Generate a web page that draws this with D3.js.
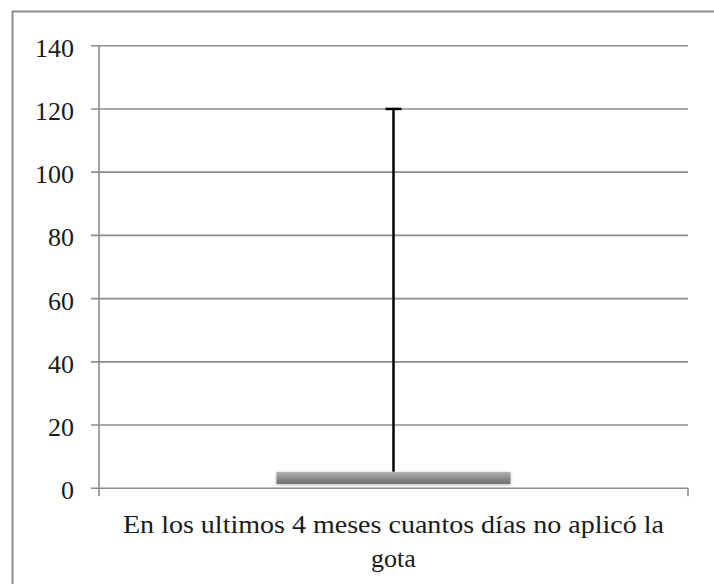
<!DOCTYPE html>
<html>
<head>
<meta charset="utf-8">
<script src="https://cdn.jsdelivr.net/npm/d3@7"></script>
<style>
  html, body { margin: 0; padding: 0; background: #fff; }
  svg { display: block; }
</style>
</head>
<body>
<div id="chart"></div>
<script>
// Days without applying the drops over the last 4 months: box + upper whisker
const categories = ["En los ultimos 4 meses cuantos días no aplicó la gota"];
const categoryLines = [["En los ultimos 4 meses cuantos días no aplicó la", "gota"]];
const boxLow = [1.4];
const boxHigh = [5.2];
const whiskerHigh = [120];
const yTicks = [0, 20, 40, 60, 80, 100, 120, 140];

const width = 714, height = 584;
const margin = { left: 99, right: 26, top: 45.7, bottom: 95.7 };
const font = "'Liberation Serif', 'Times New Roman', serif";

const svg = d3.select("#chart").append("svg")
  .attr("width", width).attr("height", height);

const defs = svg.append("defs");
const grad = defs.append("linearGradient")
  .attr("id", "boxFill").attr("x1", 0).attr("y1", 0).attr("x2", 0).attr("y2", 1);
grad.append("stop").attr("offset", "0%").attr("stop-color", "#b4b4b4");
grad.append("stop").attr("offset", "55%").attr("stop-color", "#8a8a8a");
grad.append("stop").attr("offset", "100%").attr("stop-color", "#6e6e6e");
defs.append("filter").attr("id", "soft").attr("x", "-5%").attr("y", "-50%")
  .attr("width", "110%").attr("height", "200%")
  .append("feDropShadow").attr("dx", 0).attr("dy", 1).attr("stdDeviation", 1.5)
  .attr("flood-color", "#000").attr("flood-opacity", 0.3);

// chart-area frame (left and top edges)
svg.append("path")
  .attr("d", `M12.5,${height} V11.5 H${width}`)
  .attr("fill", "none").attr("stroke", "#8c8c8c").attr("stroke-width", 2);

const x = d3.scaleBand().domain(categories)
  .range([margin.left, width - margin.right]).paddingInner(0).paddingOuter(0);
const y = d3.scaleLinear().domain([0, 140])
  .range([height - margin.bottom, margin.top]);

// horizontal gridlines
svg.append("g").selectAll("line").data(yTicks).join("line")
  .attr("x1", margin.left - 8).attr("x2", width - margin.right)
  .attr("y1", d => y(d)).attr("y2", d => y(d))
  .attr("stroke", "#8c8c8c").attr("stroke-width", 1.6);

// y axis line
svg.append("line")
  .attr("x1", margin.left).attr("x2", margin.left)
  .attr("y1", y(140)).attr("y2", y(0))
  .attr("stroke", "#8c8c8c").attr("stroke-width", 1.6);

// x axis tick marks at category boundaries
const bounds = [x.range()[0], x.range()[1]];
svg.append("g").selectAll("line").data(bounds).join("line")
  .attr("x1", d => d).attr("x2", d => d)
  .attr("y1", y(0)).attr("y2", y(0) + 8)
  .attr("stroke", "#8c8c8c").attr("stroke-width", 1.6);

// y tick labels
svg.append("g").selectAll("text").data(yTicks).join("text")
  .attr("x", 74).attr("y", d => y(d) + 11)
  .attr("text-anchor", "end")
  .attr("font-family", font).attr("font-size", 26).attr("fill", "#1a1a1a")
  .text(d => d);

// whisker from box top to max
const cx = d => x(d) + x.bandwidth() / 2;
svg.append("g").selectAll("line.whisker").data(categories).join("line")
  .attr("x1", d => cx(d)).attr("x2", d => cx(d))
  .attr("y1", (d, i) => y(boxHigh[i])).attr("y2", (d, i) => y(whiskerHigh[i]))
  .attr("stroke", "#000").attr("stroke-width", 2.5);
svg.append("g").selectAll("line.cap").data(categories).join("line")
  .attr("x1", d => cx(d) - 8).attr("x2", d => cx(d) + 8)
  .attr("y1", (d, i) => y(whiskerHigh[i])).attr("y2", (d, i) => y(whiskerHigh[i]))
  .attr("stroke", "#000").attr("stroke-width", 2.5);

// box
const boxW = 234;
svg.append("g").selectAll("rect").data(categories).join("rect")
  .attr("x", d => cx(d) - boxW / 2).attr("width", boxW)
  .attr("y", (d, i) => y(boxHigh[i]))
  .attr("height", (d, i) => y(boxLow[i]) - y(boxHigh[i]))
  .attr("fill", "url(#boxFill)").attr("filter", "url(#soft)");

// category label (two lines)
const lab = svg.append("g");
categoryLines.forEach((lines, i) => {
  lines.forEach((t, j) => {
    const el = lab.append("text")
      .attr("x", cx(categories[i])).attr("y", 533 + j * 34)
      .attr("text-anchor", "middle")
      .attr("font-family", font).attr("font-size", 26).attr("fill", "#1a1a1a")
      .text(t);
    if (j === 0) el.attr("textLength", 541).attr("lengthAdjust", "spacingAndGlyphs");
  });
});
</script>
</body>
</html>
